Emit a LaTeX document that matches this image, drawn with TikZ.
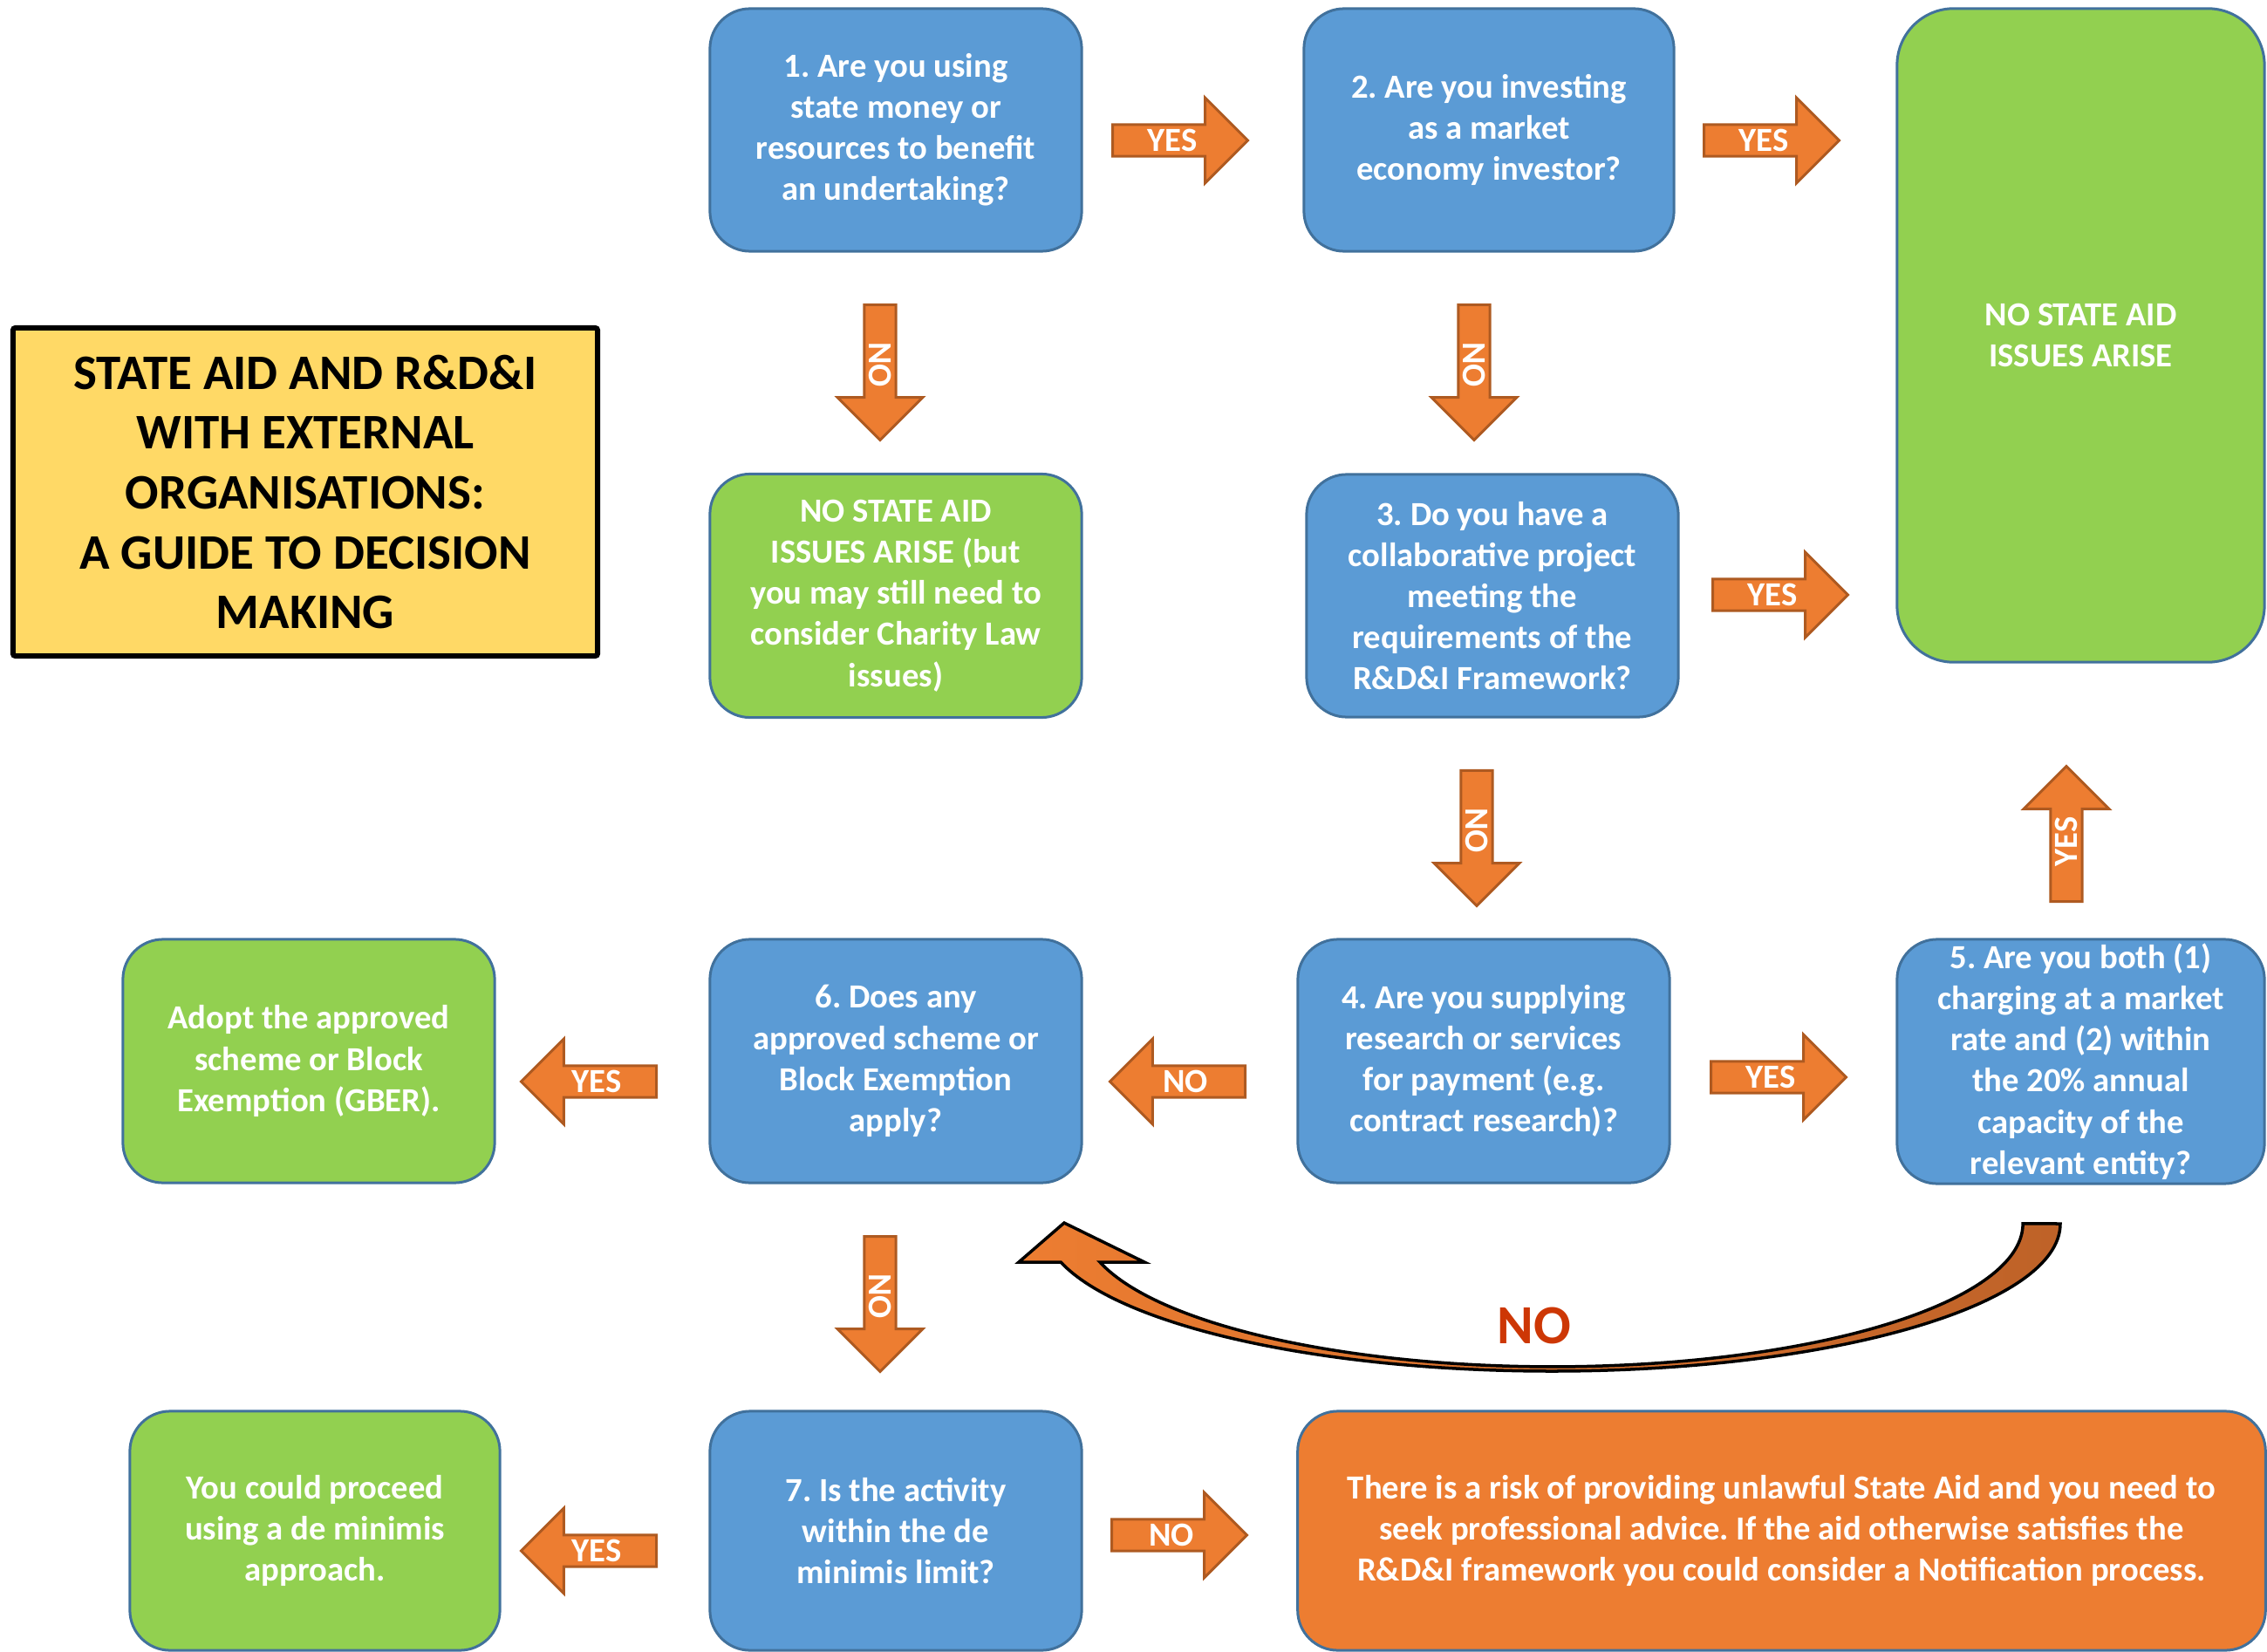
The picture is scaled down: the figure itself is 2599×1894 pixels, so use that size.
\documentclass[tikz,border=0pt]{standalone}
\usepackage{fontspec}
\setmainfont{Carlito}
\usetikzlibrary{shapes.arrows}
\definecolor{qblue}{RGB}{91,155,213}
\definecolor{qborder}{RGB}{65,113,156}
\definecolor{ggreen}{RGB}{146,208,80}
\definecolor{oorange}{RGB}{237,125,49}
\definecolor{aborder}{RGB}{174,90,33}
\definecolor{tyellow}{RGB}{255,217,102}
\definecolor{cdark}{RGB}{190,98,40}
\definecolor{nored}{RGB}{205,55,5}
\newcommand\bxfont{\fontsize{11pt}{13.4pt}\selectfont\bfseries\frenchspacing}
\newcommand\ttlfont{\fontsize{16.2pt}{19.5pt}\selectfont\bfseries\frenchspacing}
\tikzset{
  qbox/.style={rectangle, rounded corners=0.46cm, fill=qblue, draw=qborder,
    line width=0.03cm, text=white, font=\bxfont, align=center, inner sep=0pt,
    minimum width=4.26cm, minimum height=2.78cm},
  gbox/.style={qbox, fill=ggreen},
  obox/.style={qbox, fill=oorange},
  ttlbox/.style={rectangle, rounded corners=0.03cm, fill=tyellow, draw=black,
    line width=0.06cm, text=black, font=\ttlfont, align=center, inner sep=0pt,
    minimum width=6.70cm, minimum height=3.76cm},
  blockarrow/.style={single arrow, fill=oorange, draw=aborder, line width=0.03cm,
    text=white, font=\bxfont, inner sep=0pt, minimum height=1.55cm,
    minimum width=0.98cm, single arrow head extend=0.245cm, anchor=center},
  leftarrow/.style={blockarrow, shape border rotate=180},
  curvearrow/.style={draw=black, line width=0.035cm, left color=oorange, right color=cdark},
}
\begin{document}
\begin{tikzpicture}[x=0.01cm, y=-0.01cm]
\useasboundingbox (0,0) rectangle (2599,1894);

% title
\node[ttlbox] (title) at (350,564) {STATE AID AND R\&D\&I\\WITH EXTERNAL\\ORGANISATIONS:\\A GUIDE TO DECISION\\MAKING};

% boxes
\node[qbox] (q1) at (1027,149) {1. Are you using\\state money or\\resources to benefit\\an undertaking?};
\node[qbox, minimum width=4.24cm] (q2) at (1707,149) {2. Are you investing\\as a market\\economy investor?};
\node[gbox, rounded corners=0.65cm, minimum width=4.21cm, minimum height=7.49cm] (nosa) at (2385.5,384.5) {NO STATE AID\\ISSUES ARISE};
\node[gbox, minimum height=2.79cm] (nosal) at (1027,683) {NO STATE AID\\ISSUES ARISE (but\\you may still need to\\consider Charity Law\\issues)};
\node[qbox] (q3) at (1711,683) {3. Do you have a\\collaborative project\\meeting the\\requirements of the\\R\&D\&I Framework?};
\node[qbox, minimum height=2.79cm] (q4) at (1701,1216.5) {4. Are you supplying\\research or services\\for payment (e.g.\\contract research)?};
\node[qbox, minimum width=4.21cm, minimum height=2.80cm] (q5) at (2385.5,1217) {5. Are you both (1)\\charging at a market\\rate and (2) within\\the 20\% annual\\capacity of the\\relevant entity?};
\node[qbox, minimum height=2.79cm] (q6) at (1027,1216.5) {6. Does any\\approved scheme or\\Block Exemption\\apply?};
\node[gbox, minimum height=2.79cm] (adopt) at (354,1216.5) {Adopt the approved\\scheme or Block\\Exemption (GBER).};
\node[qbox, minimum height=2.74cm] (q7) at (1027,1755) {7. Is the activity\\within the de\\minimis limit?};
\node[gbox, minimum width=4.24cm, minimum height=2.74cm] (proceed) at (361,1755) {You could proceed\\using a de minimis\\approach.};
\node[obox, minimum width=11.09cm, minimum height=2.74cm] (risk) at (2042.5,1755) {There is a risk of providing unlawful State Aid and you need to\\seek professional advice. If the aid otherwise satisfies the\\R\&D\&I framework you could consider a Notification process.};

% block arrows
\node[blockarrow] (a12) at (1344,161) {YES};
\node[blockarrow] (a2g) at (2022,161) {YES};
\node[blockarrow] (a3g) at (2032,682) {YES};
\node[blockarrow] (a45) at (2030,1235) {YES};
\node[leftarrow] (a46) at (1359,1240) {NO};
\node[leftarrow] (a6a) at (684,1240) {YES};
\node[leftarrow] (a7p) at (684,1778) {YES};
\node[blockarrow] (a7o) at (1343,1760) {NO};
\node[blockarrow, rotate=-90] (d1) at (1009,418) {NO};
\node[blockarrow, rotate=-90] (d2) at (1690,418) {NO};
\node[blockarrow, rotate=-90] (d3) at (1693,952) {NO};
\node[blockarrow, rotate=90] (u5) at (2369,965) {YES};
\node[blockarrow, rotate=-90] (d6) at (1009,1486) {NO};

% curved NO arrow from 5 back to 6
\coordinate (cstart) at (2362,1403);
\coordinate (hl) at (1168,1447);
\coordinate (htip) at (1220,1402);
\coordinate (hr) at (1312,1447);
\coordinate (iin) at (1261,1447);
\draw[curvearrow] (cstart) arc[start angle=0, end angle=164.9, x radius=583, y radius=169]
  -- (hl) -- (htip) -- (hr) -- (iin)
  arc[start angle=164.4, end angle=0, x radius=539, y radius=164] -- cycle;
\node[text=nored, font=\fontsize{18pt}{20pt}\selectfont\bfseries, inner sep=0pt] (nolbl) at (1759,1520) {NO};
\end{tikzpicture}
\end{document}
